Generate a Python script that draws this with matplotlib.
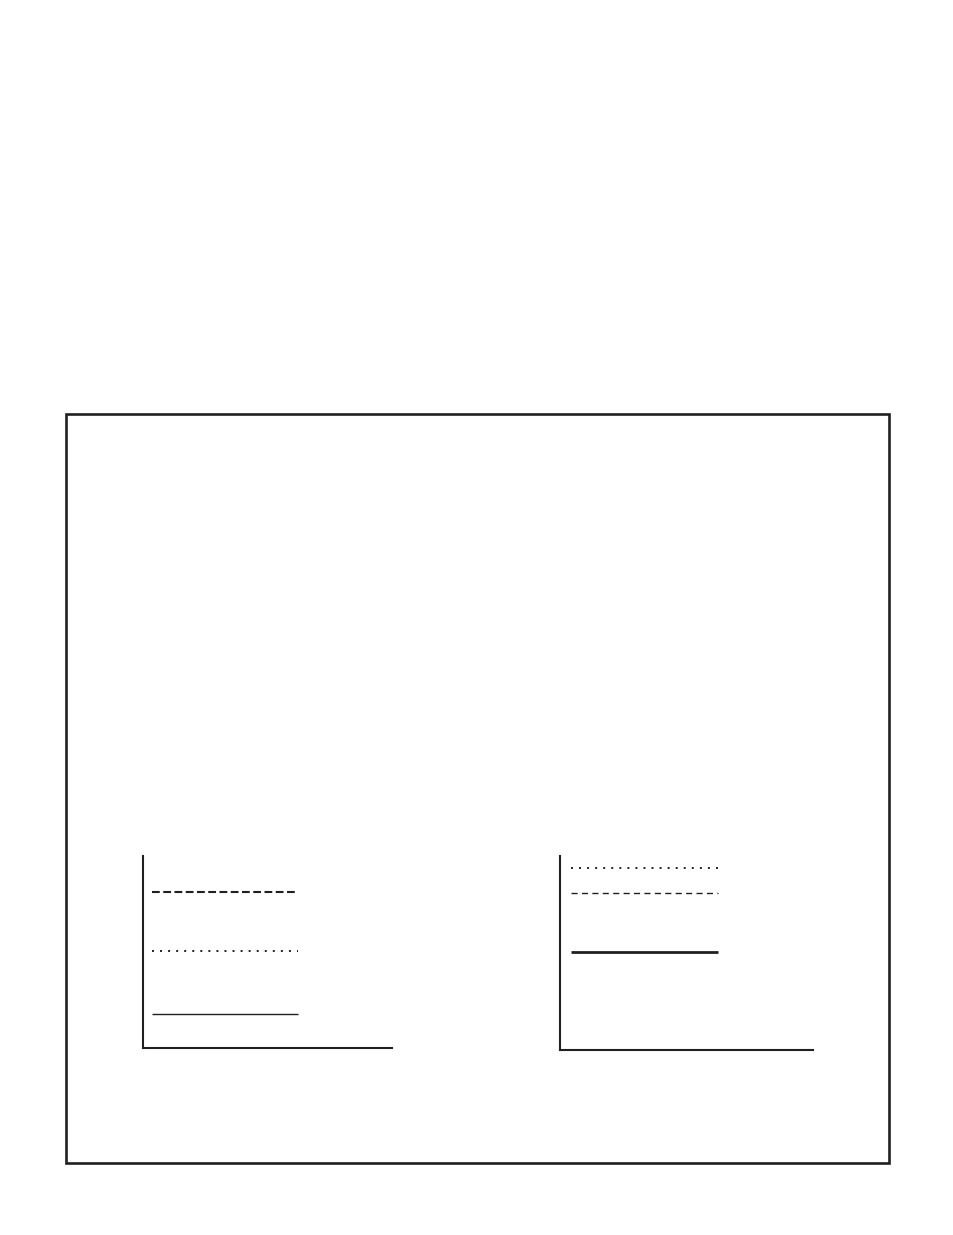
import matplotlib
matplotlib.use("Agg")
import matplotlib.pyplot as plt
from matplotlib.patches import Rectangle

plt.rcParams['lines.scale_dashes'] = False

# data: each panel has three constant-level series over x from x_start to x_end
x_span = [0, 6]
left_series = ["dashed", "dotted", "solid"]
left_values = [8.1, 5.05, 1.77]
right_series = ["dotted", "dashed", "solid"]
right_values = [9.38, 8.09, 5.05]

ink = '#231f20'

styles = {
    "left": {
        "dashed": dict(ls=(0, (5.6, 2.5)), lw=1.5),
        "dotted": dict(ls=(0, (1.4, 4.4)), lw=1.4),
        "solid": dict(ls='-', lw=1.0),
    },
    "right": {
        "dotted": dict(ls=(0, (1.4, 4.4)), lw=1.4),
        "dashed": dict(ls=(0, (4.4, 3.1)), lw=1.0),
        "solid": dict(ls='-', lw=2.0),
    },
}

fig = plt.figure(figsize=(9.54, 12.35), dpi=100)
fig.patch.set_facecolor('white')

# outer frame
fig.patches.append(Rectangle((66/954, 1-1163/1235), 823/954, 749/1235,
                             transform=fig.transFigure, fill=False,
                             edgecolor=ink, lw=1.9, zorder=0))

def panel(rect, names, vals, key, xlim):
    ax = fig.add_axes(rect)
    for n, v in zip(names, vals):
        st = styles[key][n]
        ax.plot(x_span, [v, v], color=ink, linestyle=st['ls'], lw=st['lw'],
                solid_capstyle='butt', dash_capstyle='butt')
    ax.set_xlim(*xlim)
    ax.set_ylim(0, 10)
    for s in ['top', 'right']:
        ax.spines[s].set_visible(False)
    for s in ['left', 'bottom']:
        ax.spines[s].set_color(ink)
        ax.spines[s].set_linewidth(1.5)
    ax.set_xticks([])
    ax.set_yticks([])
    ax.patch.set_alpha(0)
    return ax

panel([143/954, 1-1048/1235, 249/954, 192/1235], left_series, left_values,
      "left", (-0.37, 9.86))
panel([560/954, 1-1050/1235, 253/954, 194/1235], right_series, right_values,
      "right", (-0.45, 9.87))

fig.savefig("out.png", dpi=100)
